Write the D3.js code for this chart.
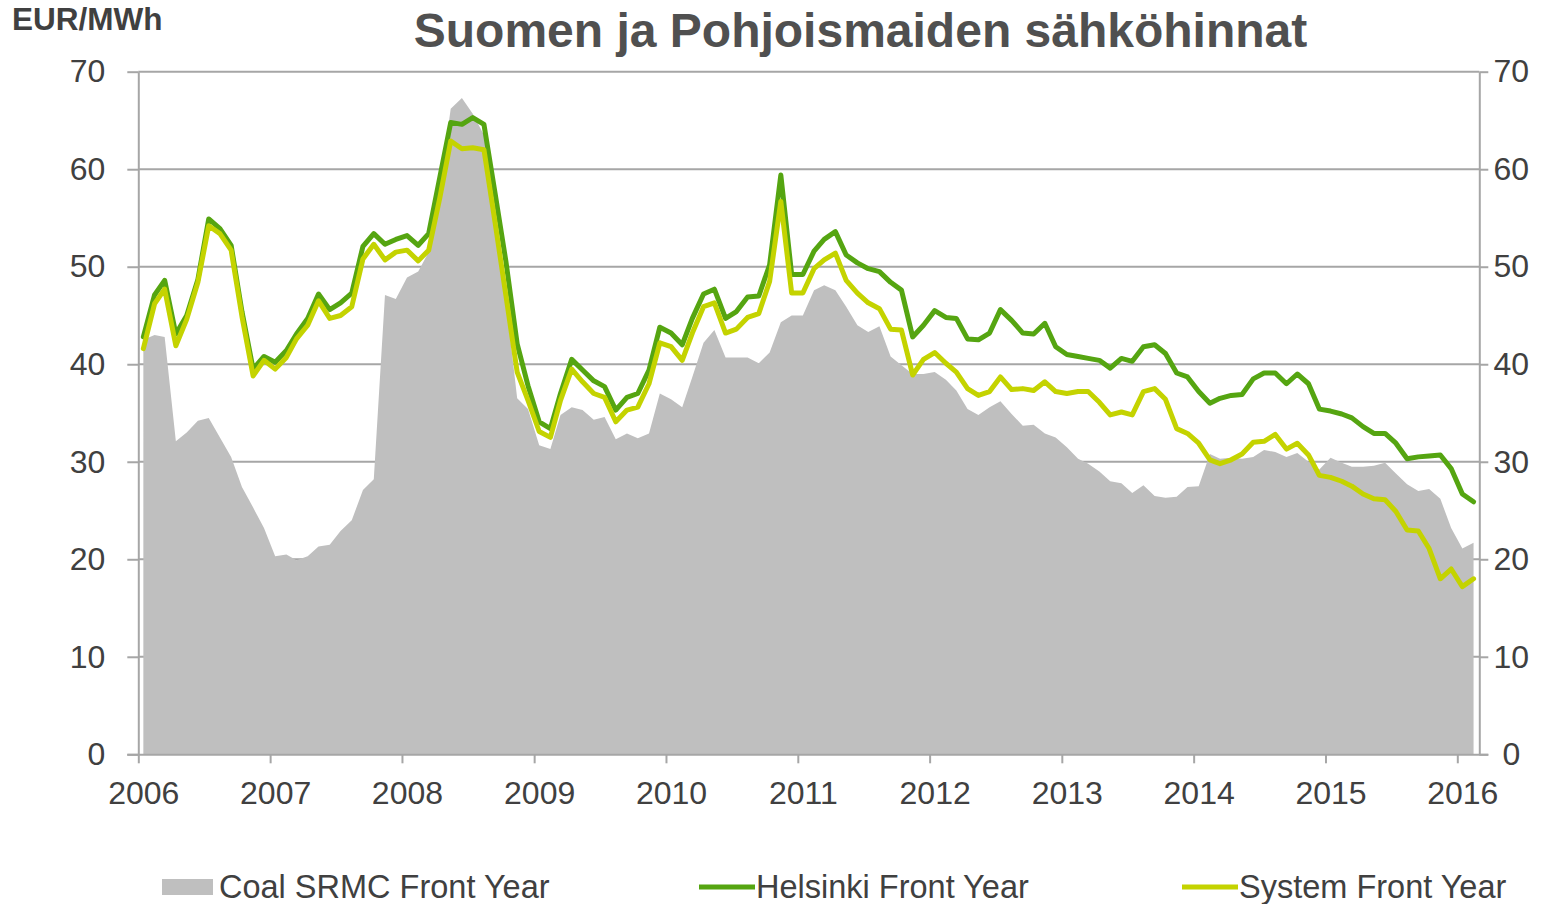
<!DOCTYPE html>
<html>
<head>
<meta charset="utf-8">
<script src="https://cdn.jsdelivr.net/npm/d3@7"></script>
<style>
  html, body { margin: 0; padding: 0; background: #fff; }
  svg { display: block; font-family: "Liberation Sans", Arial, sans-serif; }
</style>
</head>
<body>
<svg id="chart" width="1557" height="904"></svg>
<script>
// ---------------- data ----------------
const title = "Suomen ja Pohjoismaiden sähköhinnat";
const unitLabel = "EUR/MWh";
const startYear = 2006;           // first month: January 2006, monthly observations
const yearTicks = [2006, 2007, 2008, 2009, 2010, 2011, 2012, 2013, 2014, 2015, 2016];
const yTicks = [0, 10, 20, 30, 40, 50, 60, 70];
const seriesNames = ["Coal SRMC Front Year", "Helsinki Front Year", "System Front Year"];

const coalSRMC = [
  42.5, 43.0, 42.8, 32.1, 33.0, 34.2, 34.5, 32.5, 30.5, 27.4, 25.3, 23.2,
  20.3, 20.5, 19.9, 20.3, 21.3, 21.5, 22.9, 24.0, 27.1, 28.2, 47.1, 46.7,
  48.9, 49.5, 51.5, 58.2, 66.2, 67.3, 65.7, 63.5, 55.5, 46.5, 36.5, 35.4,
  31.7, 31.3, 34.8, 35.6, 35.3, 34.3, 34.6, 32.3, 32.9, 32.4, 32.9, 37.0,
  36.4, 35.6, 38.7, 42.2, 43.5, 40.7, 40.7, 40.7, 40.1, 41.2, 44.3, 45.0,
  45.0, 47.6, 48.1, 47.6, 45.9, 44.0, 43.3, 43.9, 40.8, 39.9, 39.0, 39.0,
  39.2, 38.4, 37.3, 35.4, 34.8, 35.6, 36.2, 34.9, 33.7, 33.8, 32.9, 32.5,
  31.5, 30.3, 29.8, 29.0, 28.0, 27.8, 26.8, 27.6, 26.5, 26.3, 26.4, 27.4,
  27.5, 30.8, 30.3, 30.4, 30.3, 30.5, 31.2, 31.0, 30.5, 30.9, 30.0, 29.2,
  30.4, 29.9, 29.5, 29.5, 29.6, 29.9, 28.8, 27.7, 27.0, 27.2, 26.2, 23.2,
  21.1, 21.7
];

const helsinki = [
  42.8, 47.1, 48.6, 43.1, 45.0, 48.7, 54.9, 53.9, 52.2, 45.4, 39.5, 40.8,
  40.2, 41.4, 43.1, 44.7, 47.2, 45.6, 46.3, 47.3, 52.1, 53.4, 52.3, 52.8,
  53.2, 52.2, 53.4, 59.2, 64.8, 64.6, 65.3, 64.6, 57.5, 50.5, 42.1, 37.8,
  34.1, 33.4, 37.0, 40.5, 39.4, 38.3, 37.7, 35.3, 36.6, 37.0, 39.4, 43.8,
  43.2, 42.0, 44.7, 47.2, 47.7, 44.7, 45.4, 46.9, 47.0, 50.2, 59.4, 49.2,
  49.2, 51.6, 52.8, 53.6, 51.2, 50.4, 49.8, 49.5, 48.4, 47.6, 42.8, 44.0,
  45.5, 44.8, 44.7, 42.6, 42.5, 43.2, 45.6, 44.5, 43.2, 43.1, 44.2, 41.8,
  41.0, 40.8, 40.6, 40.4, 39.6, 40.6, 40.3, 41.8, 42.0, 41.1, 39.1, 38.7,
  37.2, 36.0, 36.5, 36.8, 36.9, 38.5, 39.1, 39.1, 38.0, 39.0, 38.0, 35.4,
  35.2, 34.9, 34.5, 33.6, 32.9, 32.9, 31.9, 30.3, 30.5, 30.6, 30.7, 29.3,
  26.7, 25.9
];

const systemPrice = [
  41.6, 46.2, 47.7, 41.9, 44.6, 48.4, 54.2, 53.4, 51.7, 44.9, 38.8, 40.4,
  39.5, 40.7, 42.6, 44.0, 46.5, 44.7, 45.0, 45.9, 50.8, 52.3, 50.7, 51.5,
  51.7, 50.6, 51.7, 57.1, 62.9, 62.1, 62.2, 62.0, 54.5, 47.0, 39.2, 36.3,
  33.1, 32.5, 36.3, 39.5, 38.2, 37.0, 36.6, 34.1, 35.3, 35.6, 38.0, 42.2,
  41.8, 40.4, 43.2, 45.9, 46.3, 43.2, 43.6, 44.8, 45.2, 48.5, 56.7, 47.3,
  47.3, 49.8, 50.7, 51.4, 48.6, 47.3, 46.3, 45.7, 43.6, 43.5, 38.9, 40.5,
  41.2, 40.1, 39.2, 37.5, 36.8, 37.2, 38.7, 37.4, 37.5, 37.3, 38.2, 37.2,
  37.0, 37.2, 37.2, 36.1, 34.8, 35.1, 34.8, 37.2, 37.5, 36.4, 33.4, 32.9,
  31.9, 30.2, 29.8, 30.2, 30.8, 32.0, 32.1, 32.8, 31.3, 31.9, 30.7, 28.6,
  28.4, 28.0, 27.5, 26.7, 26.2, 26.1, 24.9, 23.0, 22.9, 21.1, 18.0, 19.0,
  17.2, 18.0
];

// monthly observation dates (mid-month)
const months = coalSRMC.map((_, i) => new Date(startYear, i, 15));

// ---------------- layout ----------------
const svg = d3.select("#chart");
const plotLeft = 138.3, plotRight = 1479.3, plotTop = 71.7, plotBottom = 754.3;
const textColor = "#404040";
const gridColor = "#a6a6a6";
const colors = { coal: "#bfbfbf", hel: "#55a511", sys: "#c4d300" };

const x = d3.scaleTime()
  .domain([new Date(2006, 0, 1), new Date(2016, 0, 1)])
  .range([plotLeft, 1457.3]);
const y = d3.scaleLinear().domain([0, 70]).range([plotBottom, plotTop]);

// gridlines
svg.append("g").selectAll("line")
  .data(yTicks.filter(d => d > 0))
  .join("line")
  .attr("x1", plotLeft).attr("x2", plotRight)
  .attr("y1", d => y(d)).attr("y2", d => y(d))
  .attr("stroke", gridColor).attr("stroke-width", 2);

// area
const area = d3.area()
  .x((d, i) => x(months[i]))
  .y0(y(0))
  .y1(d => y(d));
svg.append("path").datum(coalSRMC)
  .attr("d", area).attr("fill", colors.coal);

// lines
const line = d3.line().x((d, i) => x(months[i])).y(d => y(d));
svg.append("path").datum(helsinki)
  .attr("d", line).attr("fill", "none")
  .attr("stroke", colors.hel).attr("stroke-width", 5)
  .attr("stroke-linejoin", "round").attr("stroke-linecap", "round");
svg.append("path").datum(systemPrice)
  .attr("d", line).attr("fill", "none")
  .attr("stroke", colors.sys).attr("stroke-width", 5)
  .attr("stroke-linejoin", "round").attr("stroke-linecap", "round");

// axes
function styleAxis(g) {
  g.selectAll("path.domain").attr("stroke", gridColor).attr("stroke-width", 2);
  g.selectAll(".tick line").attr("stroke", gridColor).attr("stroke-width", 2);
  g.selectAll(".tick text").attr("fill", textColor)
    .style("font-size", "32px").style("font-family", '"Liberation Sans", Arial, sans-serif');
}

const yLeft = d3.axisLeft(y).tickValues(yTicks).tickSize(11).tickPadding(22).tickSizeOuter(0);
svg.append("g").attr("transform", `translate(${plotLeft},0)`).call(yLeft).call(styleAxis);

const yRight = d3.axisRight(y).tickValues(yTicks).tickSize(9).tickPadding(10).tickSizeOuter(0);
const gr = svg.append("g").attr("transform", `translate(${plotRight},0)`).call(yRight).call(styleAxis);
gr.selectAll(".tick text").attr("text-anchor", "middle").attr("x", 32);

const xAxis = d3.axisBottom(x)
  .tickValues(yearTicks.map(yr => new Date(yr, 0, 1)))
  .tickFormat(d3.timeFormat("%Y"))
  .tickSize(9).tickPadding(18).tickSizeOuter(0);
const gx = svg.append("g").attr("transform", `translate(0,${plotBottom})`).call(xAxis).call(styleAxis);
gx.selectAll(".tick text").attr("dx", 5);
gx.select("path.domain").attr("d", `M${plotLeft - 11},0.5H${plotRight + 9}`);

// titles
svg.append("text")
  .attr("x", 860.5).attr("y", 47)
  .attr("text-anchor", "middle")
  .attr("fill", "#505050")
  .style("font-size", "48px").style("font-weight", "bold")
  .text(title);

svg.append("text")
  .attr("x", 12).attr("y", 30)
  .attr("fill", textColor)
  .style("font-size", "31.5px").style("font-weight", "bold")
  .text(unitLabel);

// legend
const legendItems = [
  { name: seriesNames[0], type: "rect", color: colors.coal, x: 162 },
  { name: seriesNames[1], type: "line", color: colors.hel, x: 699 },
  { name: seriesNames[2], type: "line", color: colors.sys, x: 1182 }
];
const lg = svg.append("g");
legendItems.forEach(it => {
  if (it.type === "rect") {
    lg.append("rect").attr("x", it.x).attr("y", 879).attr("width", 51).attr("height", 16)
      .attr("fill", it.color);
  } else {
    lg.append("line").attr("x1", it.x).attr("x2", it.x + 56)
      .attr("y1", 887).attr("y2", 887)
      .attr("stroke", it.color).attr("stroke-width", 5);
  }
  lg.append("text").attr("x", it.x + 57).attr("y", 898)
    .attr("fill", textColor).style("font-size", "32.5px")
    .text(it.name);
});
</script>
</body>
</html>
